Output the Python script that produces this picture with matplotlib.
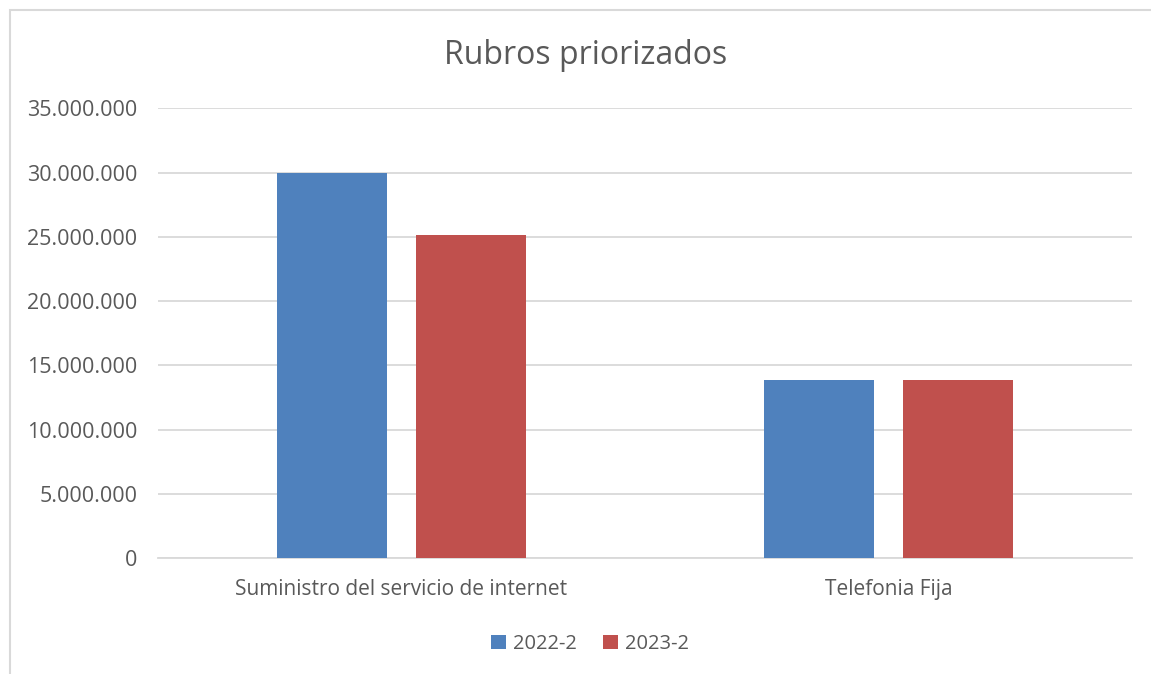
import matplotlib
matplotlib.use("Agg")
import matplotlib.pyplot as plt
from matplotlib.patches import Rectangle
from matplotlib.ticker import FuncFormatter, MultipleLocator

categories = ["Suministro del servicio de internet", "Telefonia Fija"]
series_names = ["2022-2", "2023-2"]
values_2022 = [30000000, 13870000]
values_2023 = [25120000, 13870000]
colors = ["#4F81BD", "#C0504D"]

W, H = 1151, 674
fig = plt.figure(figsize=(W / 100, H / 100), dpi=100)
plt.rcParams['font.family'] = ['Open Sans', 'DejaVu Sans']
txt = "#595959"

# outer chart border (cropped on right / bottom)
fig.patches.append(Rectangle((9.5 / W, -0.1), 1.2, 1 - 9.5 / H + 0.1,
                             transform=fig.transFigure, fill=False,
                             edgecolor="#D9D9D9", linewidth=1.5))

ax = fig.add_axes([158 / W, 1 - 558.3 / H, (1132 - 158) / W, (558.3 - 108.3) / H])
x = [0, 1]
bw = 0.224
off = 0.1427
ax.bar([i - off for i in x], values_2022, width=bw, color=colors[0], label=series_names[0], zorder=3)
ax.bar([i + off for i in x], values_2023, width=bw, color=colors[1], label=series_names[1], zorder=3)

ax.set_xlim(-0.5, 1.5)
ax.set_ylim(0, 35000000)
ax.yaxis.set_major_locator(MultipleLocator(5000000))
ax.yaxis.set_major_formatter(FuncFormatter(lambda v, p: f"{int(v):,}".replace(",", ".")))
ax.grid(axis="y", color="#D9D9D9", linewidth=1.3, zorder=0)
for s in ["top", "right", "left"]:
    ax.spines[s].set_visible(False)
ax.spines["bottom"].set_color("#D9D9D9")
ax.spines["bottom"].set_linewidth(1.3)
ax.tick_params(axis="both", length=0, labelcolor=txt)
ax.tick_params(axis="y", labelsize=15.5, pad=15)
ax.tick_params(axis="x", labelsize=15, pad=15)
ax.set_xticks(x)
ax.set_xticklabels(categories)

fig.text(585.5 / W, 1 - 55 / H, "Rubros priorizados", ha="center", va="center",
         fontsize=23, color=txt)

leg = fig.legend(loc="center", bbox_to_anchor=(590 / W, 1 - 644 / H), ncol=2,
                 frameon=False, fontsize=14.5, labelcolor=txt, handlelength=0.72,
                 handleheight=0.72, handletextpad=0.35, columnspacing=1.3)

fig.savefig("out.png", dpi=100)
